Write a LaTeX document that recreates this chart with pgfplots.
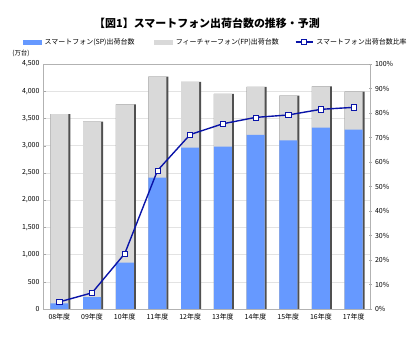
\documentclass[border=0pt]{standalone}
\usepackage{fontspec}
\setmainfont{Noto Sans CJK JP}
\usepackage{pgfplots}
\pgfplotsset{compat=1.18}
\definecolor{spblue}{HTML}{6699FF}
\definecolor{fpgray}{HTML}{D9D9D9}
\definecolor{shadowc}{HTML}{505050}
\definecolor{lineblue}{HTML}{0A14A8}
\begin{document}
\begin{tikzpicture}
\path[use as bounding box] (-43bp,-38bp) rectangle (372bp,309bp);
\begin{axis}[
  scale only axis, width=327bp, height=245bp,
  xmin=-0.5, xmax=9.5, ymin=0, ymax=4500,
  ytick={0,500,...,4500},
  xtick={0,...,9},
  xticklabels={08年度,09年度,10年度,11年度,12年度,13年度,14年度,15年度,16年度,17年度},
  x tick label style={yshift=-1bp},
  ymajorgrids, grid style={draw=gray!22, line width=0.5pt},
  axis line style={draw=gray!60},
  ytick style={draw=gray!70}, xtick style={draw=none},
  major tick length=3bp, tick align=inside,
  ytick pos=left,
  /pgf/number format/1000 sep={,},
  /pgf/number format/assume math mode=true,
  tick label style={font=\fontsize{7}{8}\selectfont},
]
\addplot[ybar, bar width=20bp, bar shift=1bp, fill=shadowc, draw=none]
  coordinates {(0,3580) (1,3440) (2,3760) (3,4267) (4,4170) (5,3950) (6,4078) (7,3918) (8,4090) (9,3991)};
\addplot[ybar, bar width=18bp, bar shift=0bp, fill=fpgray, draw=none]
  coordinates {(0,3580) (1,3440) (2,3760) (3,4267) (4,4170) (5,3950) (6,4078) (7,3918) (8,4090) (9,3991)};
\addplot[ybar, bar width=18bp, bar shift=0bp, fill=spblue, draw=none]
  coordinates {(0,102) (1,220) (2,850) (3,2412) (4,2963) (5,2981) (6,3196) (7,3099) (8,3330) (9,3294)};
\end{axis}
\begin{axis}[
  scale only axis, width=327bp, height=245bp,
  xmin=-0.5, xmax=9.5, ymin=0, ymax=100,
  axis x line=none, axis y line*=right,
  axis line style={draw=gray!60},
  ytick={0,10,...,100},
  yticklabel={\pgfmathprintnumber{\tick}\%},
  ytick style={draw=gray!70}, major tick length=3bp, tick align=center,
  /pgf/number format/assume math mode=true,
  tick label style={font=\fontsize{7}{8}\selectfont},
  legend columns=3,
  legend style={at={(173bp,267bp)}, anchor=center, draw=none, fill=none,
    font=\fontsize{7}{8.5}\selectfont, inner sep=0pt,
    /tikz/every odd column/.style={column sep=1bp},
    /tikz/column 2/.style={column sep=18bp},
    /tikz/column 4/.style={column sep=14bp}},
]
\addlegendimage{legend image code/.code={\fill[spblue] (0bp,-2bp) rectangle (18bp,2bp);}}
\addlegendentry{スマートフォン(SP)出荷台数}
\addlegendimage{legend image code/.code={\fill[fpgray] (0bp,-2bp) rectangle (18bp,2bp);}}
\addlegendentry{フィーチャーフォン(FP)出荷台数}
\addplot[lineblue, line width=1.4pt, mark=square*, mark size=2.6bp,
  mark options={fill=white, draw=lineblue, line width=0.6pt, solid}]
  coordinates {(0,2.9) (1,6.6) (2,22.6) (3,56.5) (4,71.2) (5,75.6) (6,78.2) (7,79.2) (8,81.5) (9,82.3)};
\addlegendentry{スマートフォン出荷台数比率}
\end{axis}
\node[font=\bfseries\fontsize{11}{13}\selectfont] at (164bp,286bp) {【図1】スマートフォン出荷台数の推移・予測};
\node[font=\fontsize{6.5}{8}\selectfont] at (-22bp,256bp) {(万台)};
\end{tikzpicture}
\end{document}
